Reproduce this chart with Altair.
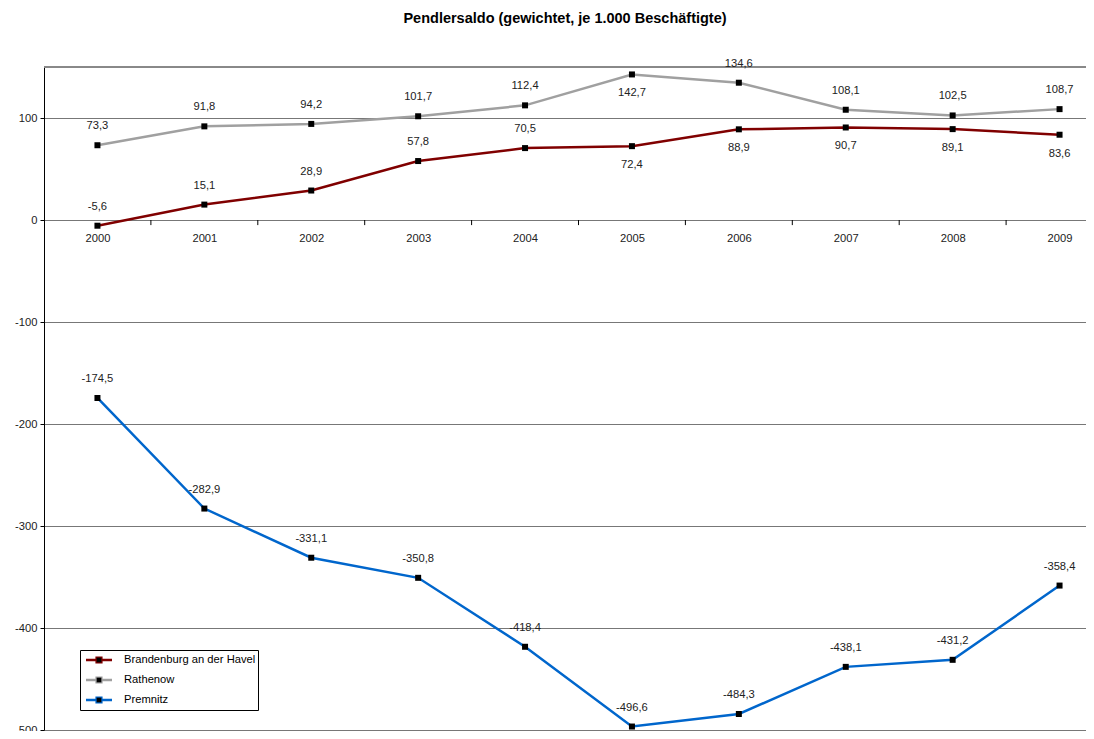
import altair as alt
import pandas as pd

years = [2000, 2001, 2002, 2003, 2004, 2005, 2006, 2007, 2008, 2009]
series_names = ["Brandenburg an der Havel", "Rathenow", "Premnitz"]
brandenburg = [-5.6, 15.1, 28.9, 57.8, 70.5, 72.4, 88.9, 90.7, 89.1, 83.6]
rathenow = [73.3, 91.8, 94.2, 101.7, 112.4, 142.7, 134.6, 108.1, 102.5, 108.7]
premnitz = [-174.5, -282.9, -331.1, -350.8, -418.4, -496.6, -484.3, -438.1, -431.2, -358.4]
colors = ["#800000", "#A0A0A0", "#0066CC"]
y_ticks = [100, 0, -100, -200, -300, -400, -500]
x_tick_marks = [2000.5, 2001.5, 2002.5, 2003.5, 2004.5, 2005.5, 2006.5, 2007.5, 2008.5]

rows = []
for name, vals in zip(series_names, [brandenburg, rathenow, premnitz]):
    for yr, v in zip(years, vals):
        rows.append({"year": yr, "series": name, "value": v})
df = pd.DataFrame(rows)
ticks_df = pd.DataFrame({"year": x_tick_marks})

LEFT = 36
W, H = 1042, 663
TOP = 59
BOTTOM = 1
STEP = 106.9
YMIN, YMAX = -500, 150
zero_off = H * YMAX / (YMAX - YMIN) - H

FONT = "Liberation Sans"
FS = 11.2

x_enc = alt.X(
    "year:Q",
    scale=alt.Scale(domain=[1999.5, 1999.5 + W / STEP], nice=False, zero=False),
    axis=alt.Axis(values=years, format="d", offset=zero_off, ticks=False, domain=False,
                  grid=False, labelPadding=12, title=None, labelFontSize=FS,
                  labelColor="#222", labelFont=FONT),
)
y_enc = alt.Y(
    "value:Q",
    scale=alt.Scale(domain=[YMIN, YMAX], nice=False, zero=False),
    axis=alt.Axis(values=y_ticks, labelExpr="'' + datum.value", grid=True, gridColor="#777",
                  gridWidth=1, domainColor="#000", tickColor="#000", tickSize=4,
                  labelPadding=3, title=None, labelFontSize=FS, labelColor="#222",
                  labelFont=FONT),
)

LEG_X, LEG_Y = 80 - (8 + LEFT), 650 - (8 + TOP)
SYM_SIZE = 169
common_leg = dict(
    orient="none", legendX=LEG_X, legendY=LEG_Y, title=None,
    symbolSize=SYM_SIZE, symbolStrokeWidth=2.5, padding=2, rowPadding=4,
    symbolOffset=9, labelOffset=17, labelFontSize=FS, labelFont=FONT, labelLimit=300,
    cornerRadius=0,
)

SQ = "M-0.36,-0.36H0.36V0.36H-0.36Z"

color_enc = alt.Color(
    "series:N",
    scale=alt.Scale(domain=series_names, range=colors),
    legend=alt.Legend(
        symbolType="M-2,0H2" + SQ, strokeColor="black", fillColor="white",
        labelColor="#000", **common_leg,
    ),
)

shape_enc = alt.Shape(
    "series_pt:N",
    scale=alt.Scale(range=[SQ, SQ, SQ]),
    legend=alt.Legend(
        symbolFillColor="black", symbolStrokeColor="black",
        labelColor="transparent", **common_leg,
    ),
)

base = alt.Chart(df)

top_rule = base.mark_rule(color="#888", strokeWidth=1).encode(y=alt.datum(YMAX))

tick_rules = alt.Chart(ticks_df).mark_rule(color="#000", strokeWidth=1).encode(
    x=x_enc, y=alt.datum(0), y2=alt.datum(-5)
)

lines = base.mark_line(strokeWidth=2.5).encode(
    x=x_enc, y=y_enc, color=color_enc, detail="series:N"
)

points = base.mark_square(
    size=36, color="black", opacity=1, filled=True
).encode(x=x_enc, y=y_enc, detail="series:N")

legend_squares = base.transform_calculate(series_pt="datum.series").mark_point(
    size=0, opacity=0, filled=True, color="black"
).encode(x=x_enc, y=y_enc, shape=shape_enc)

label_base = base.transform_calculate(
    label="(datum.value < 0 ? '-' : '') + replace(format(abs(datum.value), '.1f'), '.', ',')",
    below="(datum.series == 'Brandenburg an der Havel' && datum.year >= 2005) || (datum.series == 'Rathenow' && datum.year == 2005)",
)

labels_above = label_base.transform_filter("!datum.below").mark_text(
    dy=-19, fontSize=FS, font=FONT, color="#222", baseline="middle", align="center"
).encode(x=x_enc, y=y_enc, text="label:N")

labels_below = label_base.transform_filter("datum.below").mark_text(
    dy=19, fontSize=FS, font=FONT, color="#222", baseline="middle", align="center"
).encode(x=x_enc, y=y_enc, text="label:N")

chart = alt.layer(
    top_rule, tick_rules, lines, points, legend_squares, labels_above, labels_below
).properties(
    width=W, height=H,
    title=alt.Title("Pendlersaldo (gewichtet, je 1.000 Beschäftigte)", fontSize=14.5,
                    font=FONT, fontWeight="bold", color="#000", anchor="middle", offset=31),
    autosize=alt.AutoSizeParams(type="none"),
    padding={"left": LEFT, "top": TOP, "right": 0, "bottom": BOTTOM},
).configure_view(stroke=None)

chart.save("out.html", embed_options={"renderer": "svg", "actions": False})
